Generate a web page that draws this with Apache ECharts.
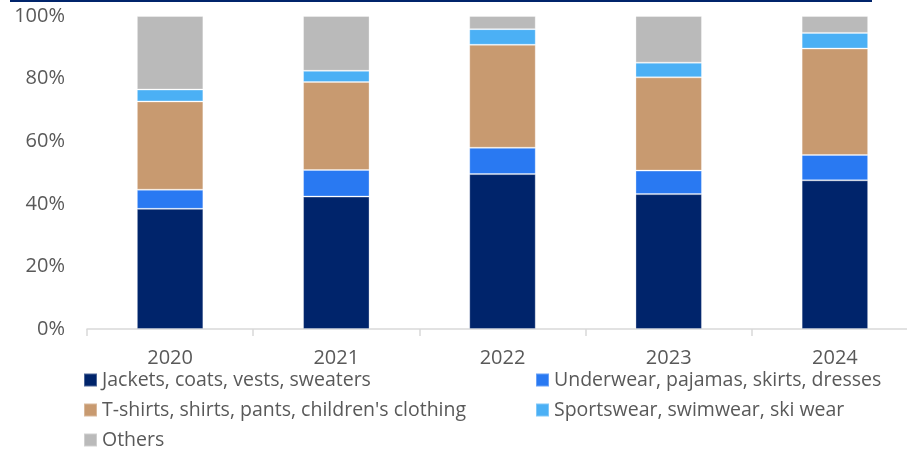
<!DOCTYPE html>
<html>
<head>
<meta charset="utf-8">
<script src="https://cdn.jsdelivr.net/npm/echarts@6/dist/echarts.min.js"></script>
<style>
  html, body { margin: 0; padding: 0; background: #ffffff; overflow: hidden; }
  /* the plot's last category band runs slightly past the right edge of the view */
  #chart { width: 918px; height: 452px; }
</style>
</head>
<body>
<div id="chart"></div>
<script>
// Share of apparel categories by year (%)
const years = ['2020', '2021', '2022', '2023', '2024'];
const jackets    = [38.4, 42.3, 49.5, 43.1, 47.5];
const underwear  = [6.1, 8.5, 8.4, 7.5, 8.1];
const tshirts    = [28.2, 28.1, 32.9, 29.8, 34.0];
const sportswear = [3.8, 3.6, 5.0, 4.7, 5.0];
const others     = [23.5, 17.5, 4.2, 14.9, 5.4];
const yTicks = [0, 20, 40, 60, 80, 100];

const seriesDefs = [
  { name: 'Jackets, coats, vests, sweaters', data: jackets, color: '#00246B' },
  { name: 'Underwear, pajamas, skirts, dresses', data: underwear, color: '#2979F2' },
  { name: "T-shirts, shirts, pants, children's clothing", data: tshirts, color: '#C89A70' },
  { name: 'Sportswear, swimwear, ski wear', data: sportswear, color: '#4BB0F5' },
  { name: 'Others', data: others, color: '#BABABA' }
];

const FONT = 'Open Sans';
const TEXT = '#595959';
const FS = 20;

const chart = echarts.init(document.getElementById('chart'), null, { renderer: 'canvas' });

const legendText = { color: TEXT, fontSize: 19.5, fontFamily: FONT, lineHeight: 20 };

function legendBlock(names, left) {
  return {
    orient: 'vertical', left: left, top: 370, padding: 0,
    height: 100,
    itemWidth: 13, itemHeight: 13, itemGap: 10,
    icon: 'rect',
    textStyle: legendText,
    data: names
  };
}

chart.setOption({
  animation: false,
  color: seriesDefs.map(s => s.color),
  grid: { left: 87, right: 0, top: 16, bottom: 123, containLabel: false },
  graphic: [{
    type: 'line',
    shape: { x1: 10, y1: 1, x2: 872, y2: 1 },
    style: { stroke: '#00246B', lineWidth: 2 }
  }],
  legend: [
    legendBlock([seriesDefs[0].name, seriesDefs[2].name, seriesDefs[4].name], 83),
    legendBlock([seriesDefs[1].name, seriesDefs[3].name], 535)
  ],
  xAxis: {
    type: 'category',
    data: years,
    boundaryGap: true,
    axisLine: { lineStyle: { color: '#D9D9D9', width: 1.5 } },
    axisTick: { show: true, length: 7, lineStyle: { color: '#D9D9D9', width: 1.5 } },
    axisLabel: { color: TEXT, fontSize: FS, fontFamily: FONT, margin: 19 },
    splitLine: { show: false }
  },
  yAxis: {
    type: 'value',
    min: yTicks[0],
    max: yTicks[yTicks.length - 1],
    interval: yTicks[1] - yTicks[0],
    axisLine: { show: false },
    axisTick: { show: false },
    splitLine: { show: false },
    axisLabel: { color: TEXT, fontSize: FS, fontFamily: FONT, margin: 22, formatter: '{value}%' }
  },
  series: seriesDefs.map(s => ({
    name: s.name,
    type: 'bar',
    stack: 'total',
    barWidth: '40%',
    data: s.data,
    itemStyle: { color: s.color, borderColor: 'rgba(255,255,255,0.3)', borderWidth: 1 }
  }))
});
</script>
</body>
</html>
